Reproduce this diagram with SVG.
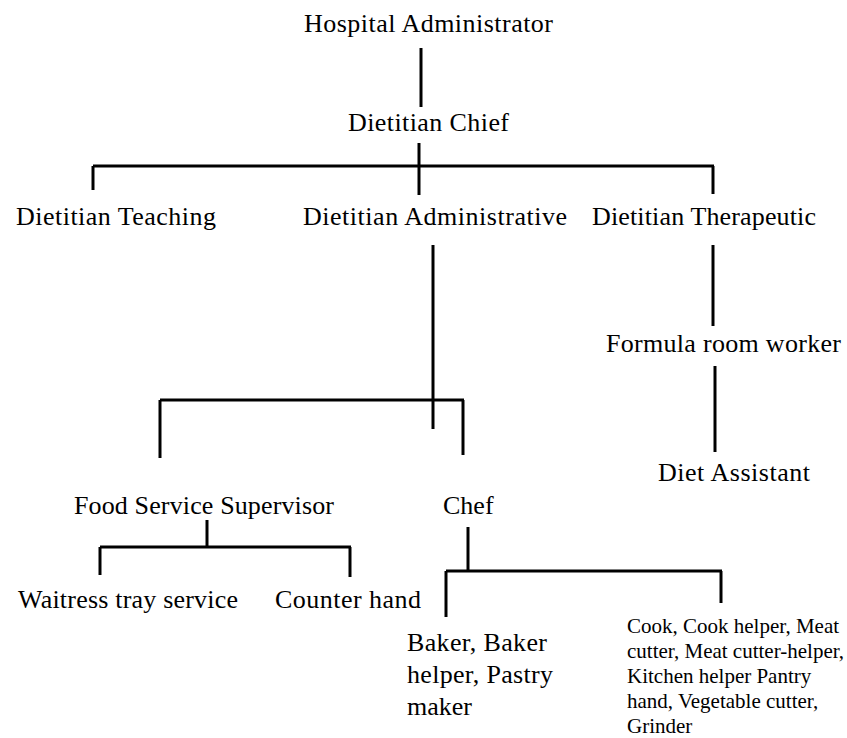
<svg xmlns="http://www.w3.org/2000/svg" width="847" height="738" viewBox="0 0 847 738">
  <style>
    text { font-family: 'Liberation Serif', 'Times New Roman', Tinos, 'DejaVu Serif', serif; fill: #000; }
    .lbl { font-size: 26px; }
    .small { font-size: 21px; }
    .wire { stroke: #000; stroke-width: 3; fill: none; stroke-linecap: butt; }
  </style>
  <rect width="847" height="738" fill="#fff"/>

  <!-- connectors -->
  <g id="connectors" class="wire">
    <line x1="421" y1="48" x2="421" y2="107"/>
    <line x1="419" y1="143" x2="419" y2="195"/>
    <line x1="93" y1="166" x2="714" y2="166"/>
    <line x1="93" y1="166" x2="93" y2="190"/>
    <line x1="713" y1="166" x2="713" y2="194"/>
    <line x1="433" y1="245" x2="433" y2="429"/>
    <line x1="160" y1="400" x2="464" y2="400"/>
    <line x1="160" y1="400" x2="160" y2="458"/>
    <line x1="463" y1="400" x2="463" y2="455"/>
    <line x1="713" y1="245" x2="713" y2="326"/>
    <line x1="715" y1="366" x2="715" y2="452"/>
    <line x1="207" y1="520" x2="207" y2="547"/>
    <line x1="100" y1="547" x2="351" y2="547"/>
    <line x1="100" y1="547" x2="100" y2="575"/>
    <line x1="350" y1="547" x2="350" y2="577"/>
    <line x1="468" y1="527" x2="468" y2="571"/>
    <line x1="446" y1="571" x2="722" y2="571"/>
    <line x1="446" y1="571" x2="446" y2="617"/>
    <line x1="721" y1="571" x2="721" y2="603"/>
  </g>

  <!-- nodes -->
  <g id="hospital-administrator"><text class="lbl" x="304" y="32" textLength="249" lengthAdjust="spacing">Hospital Administrator</text></g>
  <g id="dietitian-chief"><text class="lbl" x="348" y="131" textLength="161" lengthAdjust="spacing">Dietitian Chief</text></g>
  <g id="dietitian-teaching"><text class="lbl" x="16" y="225" textLength="200" lengthAdjust="spacing">Dietitian Teaching</text></g>
  <g id="dietitian-administrative"><text class="lbl" x="303" y="225" textLength="264" lengthAdjust="spacing">Dietitian Administrative</text></g>
  <g id="dietitian-therapeutic"><text class="lbl" x="592" y="225" textLength="224" lengthAdjust="spacing">Dietitian Therapeutic</text></g>
  <g id="formula-room-worker"><text class="lbl" x="606" y="352" textLength="235" lengthAdjust="spacing">Formula room worker</text></g>
  <g id="diet-assistant"><text class="lbl" x="658" y="481" textLength="152" lengthAdjust="spacing">Diet Assistant</text></g>
  <g id="food-service-supervisor"><text class="lbl" x="74" y="514" textLength="260" lengthAdjust="spacing">Food Service Supervisor</text></g>
  <g id="chef"><text class="lbl" x="443" y="514">Chef</text></g>
  <g id="waitress-tray-service"><text class="lbl" x="18" y="608" textLength="220" lengthAdjust="spacing">Waitress tray service</text></g>
  <g id="counter-hand"><text class="lbl" x="275" y="608" textLength="146" lengthAdjust="spacing">Counter hand</text></g>
  <g id="baker">
    <text class="lbl" x="407" y="651" textLength="140" lengthAdjust="spacing">Baker, Baker</text>
    <text class="lbl" x="407" y="683" textLength="146" lengthAdjust="spacing">helper, Pastry</text>
    <text class="lbl" x="407" y="715">maker</text>
  </g>
  <g id="kitchen-staff">
    <text class="small" x="627" y="633">Cook, Cook helper, Meat</text>
    <text class="small" x="627" y="658">cutter, Meat cutter-helper,</text>
    <text class="small" x="627" y="683">Kitchen helper Pantry</text>
    <text class="small" x="627" y="708">hand, Vegetable cutter,</text>
    <text class="small" x="627" y="733">Grinder</text>
  </g>
</svg>
